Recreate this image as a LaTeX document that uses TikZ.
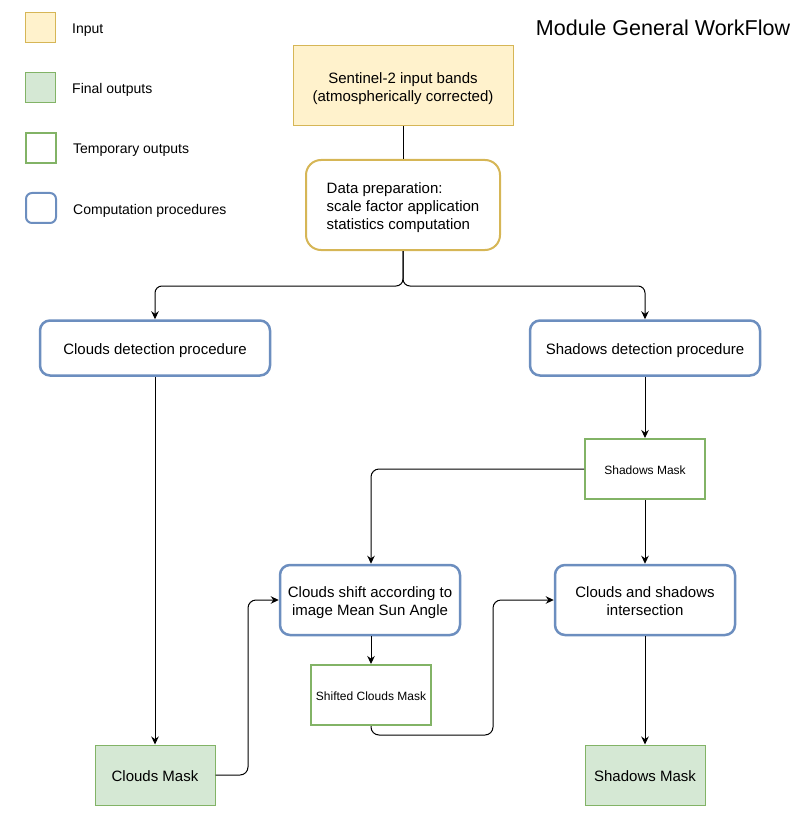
\documentclass[tikz,border=0pt]{standalone}
\usepackage{fontspec}
\setmainfont{Liberation Sans}
\usetikzlibrary{arrows.meta}
\definecolor{inFill}{HTML}{FFF2CC}
\definecolor{inDraw}{HTML}{D6B656}
\definecolor{outFill}{HTML}{D5E8D4}
\definecolor{outDraw}{HTML}{82B366}
\definecolor{procDraw}{HTML}{6C8EBF}
% line struts: first line (\lf) and following lines (\ls), 1.2em line pitch
\newcommand{\lf}{\rule[-0.25em]{0pt}{1.4em}}
\newcommand{\ls}{\rule[-0.25em]{0pt}{1.2em}}
\tikzset{
  inbox/.style={rectangle, draw=inDraw, fill=inFill, line width=1pt, align=center},
  prepbox/.style={rectangle, rounded corners=15pt, draw=inDraw, fill=white, line width=2pt, align=left},
  procbox/.style={rectangle, rounded corners=10pt, draw=procDraw, fill=white, line width=2.5pt, align=center},
  tempbox/.style={rectangle, draw=outDraw, fill=white, line width=2pt, align=center, font=\fontsize{12}{14.4}\selectfont},
  finalbox/.style={rectangle, draw=outDraw, fill=outFill, line width=1pt, align=center},
  legtext/.style={anchor=west, font=\fontsize{14}{16.8}\selectfont, inner sep=0pt},
  conn/.style={line width=1pt, draw=black},
  arr/.style={conn, -{Stealth[length=8pt,width=7.5pt]}},
}
\begin{document}
\begin{tikzpicture}[x=1pt,y=-1pt, font=\fontsize{15}{18}\selectfont]
\useasboundingbox (0,0) rectangle (807,826);

% legend
\node[inbox, minimum width=30, minimum height=30] (lin) at (40,28) {};
\node[legtext] (lint) at (72,27) {\lf Input};
\node[finalbox, minimum width=30, minimum height=30] (lout) at (40,88) {};
\node[legtext] (loutt) at (72,87) {\lf Final outputs};
\node[tempbox, minimum width=30, minimum height=30] (ltmp) at (40.5,148) {};
\node[legtext] (ltmpt) at (73,147) {\lf Temporary outputs};
\node[procbox, rounded corners=6pt, line width=2pt, minimum width=30, minimum height=30] (lproc) at (41,208) {};
\node[legtext] (lproct) at (73,208) {\lf Computation procedures};

% title
\node[font=\fontsize{21.5}{25.8}\selectfont] (title) at (663,26) {\lf Module General WorkFlow};

% main nodes
\node[inbox, minimum width=220, minimum height=80] (s2) at (403,86) {\lf Sentinel-2 input bands\\\ls (atmospherically corrected)};
\node[prepbox, minimum width=194, minimum height=90] (dp) at (403,205) {\lf Data preparation:\\\ls scale factor application\\\ls statistics computation};
\node[procbox, minimum width=230, minimum height=55] (cd) at (155,348) {\lf Clouds detection procedure};
\node[procbox, minimum width=230, minimum height=55] (sd) at (645,348) {\lf Shadows detection procedure};
\node[tempbox, minimum width=120, minimum height=60] (smt) at (645,469) {\lf Shadows Mask};
\node[procbox, minimum width=180, minimum height=70] (cs) at (370,600) {\lf Clouds shift according to\\\ls image Mean Sun Angle};
\node[procbox, minimum width=180, minimum height=70] (ci) at (645,600) {\lf Clouds and shadows\\\ls intersection};
\node[tempbox, minimum width=120, minimum height=60] (scm) at (371,695) {\lf Shifted Clouds Mask};
\node[finalbox, minimum width=120, minimum height=60] (cm) at (155,775) {\lf Clouds Mask};
\node[finalbox, minimum width=120, minimum height=60] (smf) at (645,775) {\lf Shadows Mask};

\coordinate (split) at (403,286);
\coordinate (j1) at (493,735);
\coordinate (j2) at (248,775);

% connectors
\draw[conn] (s2.south) -- (dp.north);
\draw[arr, rounded corners=7pt] (dp.south) -- (split) -| (cd.north);
\draw[arr, rounded corners=7pt] (dp.south) -- (split) -| (sd.north);
\draw[arr] (cd.south) -- (cm.north);
\draw[arr] (sd.south) -- (smt.north);
\draw[arr, rounded corners=8pt] (smt.west) -| ([xshift=1pt]cs.north);
\draw[arr] (smt.south) -- (ci.north);
\draw[arr] ([xshift=1pt]cs.south) -- (scm.north);
\draw[arr, rounded corners=8pt] (scm.south) |- (j1) |- (ci.west);
\draw[arr, rounded corners=8pt] (cm.east) -- (j2) |- (cs.west);
\draw[arr] (ci.south) -- (smf.north);
\end{tikzpicture}
\end{document}
